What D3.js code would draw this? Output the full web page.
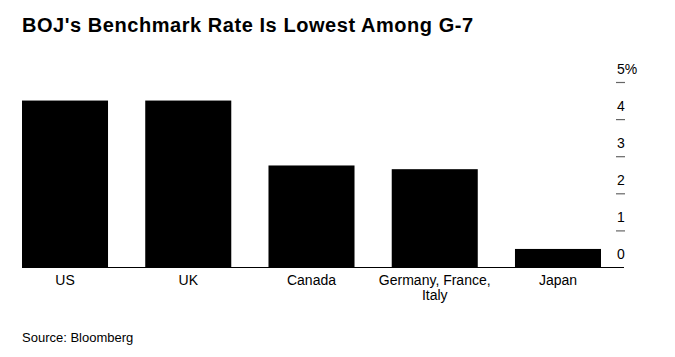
<!DOCTYPE html>
<html>
<head>
<meta charset="utf-8">
<script src="https://cdn.jsdelivr.net/npm/d3@7"></script>
<style>
  html, body { margin: 0; padding: 0; background: #fff; }
  svg { display: block; }
  text { font-family: "Liberation Sans", Arial, sans-serif; fill: #000; }
</style>
</head>
<body>
<svg id="chart" width="675" height="357"></svg>
<script>
const categories = ["US", "UK", "Canada", "Germany, France, Italy", "Japan"];
const categoryLines = [["US"], ["UK"], ["Canada"], ["Germany, France,", "Italy"], ["Japan"]];
const rates = [4.5, 4.5, 2.75, 2.65, 0.5];
const tickValues = [0, 1, 2, 3, 4, 5];
const tickLabels = ["0", "1", "2", "3", "4", "5%"];

const svg = d3.select("#chart");

const x = d3.scaleBand().domain(categories).range([22, 601]).paddingInner(0.302).paddingOuter(0);
const y = d3.scaleLinear().domain([0, 5]).range([267.5, 82]);

// Title
svg.append("text")
  .attr("x", 22).attr("y", 32)
  .style("font-size", "20px").style("font-weight", "bold")
  .style("letter-spacing", "0.55px")
  .text("BOJ's Benchmark Rate Is Lowest Among G-7");

// Bars
svg.append("g").selectAll("rect")
  .data(categories)
  .join("rect")
  .attr("x", d => x(d))
  .attr("width", x.bandwidth())
  .attr("y", (d, i) => y(rates[i]))
  .attr("height", (d, i) => y(0) - y(rates[i]))
  .attr("fill", "#000");

// Right axis
const axis = d3.axisRight(y).tickValues(tickValues).tickSize(0).tickFormat((d, i) => tickLabels[i]);
const gAxis = svg.append("g").attr("transform", "translate(616,0)").call(axis);
gAxis.select(".domain").remove();
gAxis.selectAll(".tick line")
  .attr("x1", 0).attr("x2", 9)
  .attr("stroke", d => d === 0 ? "none" : "#666").attr("stroke-width", 1.2);
gAxis.selectAll(".tick text")
  .attr("x", 1).attr("dy", "-9px")
  .attr("text-anchor", "start")
  .style("font-size", "14px").style("font-family", "'Liberation Sans', Arial, sans-serif").attr("fill", "#000");

// Baseline
svg.append("line")
  .attr("x1", 22).attr("x2", 624)
  .attr("y1", y(0)).attr("y2", y(0))
  .attr("stroke", "#000").attr("stroke-width", 1.2);

// Category labels
const labels = svg.append("g").selectAll("text")
  .data(categories)
  .join("text")
  .attr("x", d => x(d) + x.bandwidth() / 2)
  .attr("y", 285)
  .attr("text-anchor", "middle")
  .style("font-size", "14px");
labels.each(function(d, i) {
  const t = d3.select(this);
  categoryLines[i].forEach((line, j) => {
    t.append("tspan").attr("x", x(d) + x.bandwidth() / 2).attr("dy", j === 0 ? 0 : 15).text(line);
  });
});

// Source
svg.append("text")
  .attr("x", 22).attr("y", 342)
  .style("font-size", "13px")
  .text("Source: Bloomberg");
</script>
</body>
</html>
